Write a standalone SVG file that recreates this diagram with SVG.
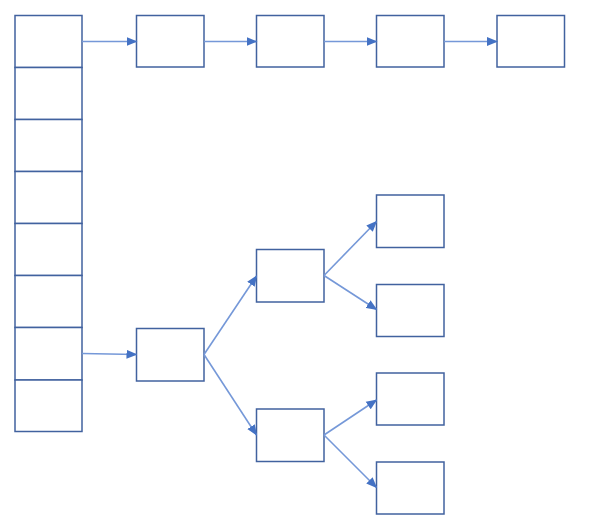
<svg xmlns="http://www.w3.org/2000/svg" width="599" height="522" viewBox="0 0 599 522">
<style>
.b{fill:#fff;stroke:#41629f;stroke-width:1.5}
.c{fill:none;stroke:#7598d8;stroke-width:1.6;marker-end:url(#ah)}
</style>
<defs>
<marker id="ah" markerWidth="11" markerHeight="10" refX="10" refY="5" orient="auto" markerUnits="userSpaceOnUse">
<path d="M0,0.5 L11,5 L0,9.5 Z" fill="#4472c4"/>
</marker>
</defs>
<rect width="599" height="522" fill="#fff"/>
<g id="array">
<rect class="b" x="15" y="15.5" width="67" height="52"/>
<rect class="b" x="15" y="67.5" width="67" height="52"/>
<rect class="b" x="15" y="119.5" width="67" height="52"/>
<rect class="b" x="15" y="171.5" width="67" height="52"/>
<rect class="b" x="15" y="223.5" width="67" height="52"/>
<rect class="b" x="15" y="275.5" width="67" height="52"/>
<rect class="b" x="15" y="327.5" width="67" height="52.5"/>
<rect class="b" x="15" y="380" width="67" height="51.5"/>
</g>
<g id="n1"><rect class="b" x="136.5" y="15.5" width="67.5" height="51.5"/></g>
<g id="n2"><rect class="b" x="256.5" y="15.5" width="67.5" height="51.5"/></g>
<g id="n3"><rect class="b" x="376.5" y="15.5" width="67.5" height="51.5"/></g>
<g id="n4"><rect class="b" x="497" y="15.5" width="67.5" height="51.5"/></g>
<g id="t0"><rect class="b" x="136.5" y="328.5" width="67.5" height="52.5"/></g>
<g id="t1"><rect class="b" x="256.5" y="249.5" width="67.5" height="52.5"/></g>
<g id="t2"><rect class="b" x="256.5" y="409" width="67.5" height="52.5"/></g>
<g id="t3"><rect class="b" x="376.5" y="195" width="67.5" height="52.5"/></g>
<g id="t4"><rect class="b" x="376.5" y="284.5" width="67.5" height="52"/></g>
<g id="t5"><rect class="b" x="376.5" y="373" width="67.5" height="52"/></g>
<g id="t6"><rect class="b" x="376.5" y="462" width="67.5" height="52"/></g>
<g id="connectors">
<line class="c" x1="82" y1="41.5" x2="136.5" y2="41.5"/>
<line class="c" x1="204" y1="41.5" x2="256.5" y2="41.5"/>
<line class="c" x1="324" y1="41.5" x2="376.5" y2="41.5"/>
<line class="c" x1="444" y1="41.5" x2="497" y2="41.5"/>
<line class="c" x1="82" y1="353.5" x2="136.5" y2="354.5"/>
<line class="c" x1="204" y1="354.5" x2="256.5" y2="276"/>
<line class="c" x1="204" y1="354.5" x2="256.5" y2="435"/>
<line class="c" x1="324" y1="275.5" x2="376.5" y2="221.5"/>
<line class="c" x1="324" y1="275.5" x2="376.5" y2="309.5"/>
<line class="c" x1="324" y1="435" x2="376.5" y2="400"/>
<line class="c" x1="324" y1="435" x2="376.5" y2="487.5"/>
</g>
</svg>
